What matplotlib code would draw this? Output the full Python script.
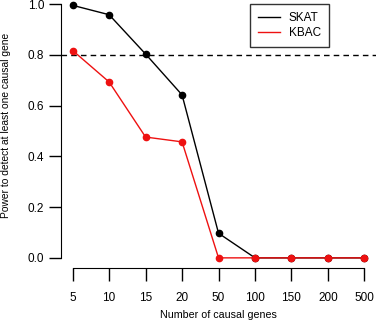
import matplotlib.pyplot as plt

plt.rcParams['font.family'] = ['Liberation Sans', 'DejaVu Sans']

genes = ['5', '10', '15', '20', '50', '100', '150', '200', '500']
skat = [0.995, 0.958, 0.803, 0.642, 0.097, 0.0, 0.0, 0.0, 0.0]
kbac = [0.817, 0.693, 0.476, 0.457, 0.0, 0.0, 0.0, 0.0, 0.0]

x = list(range(len(genes)))

fig = plt.figure(figsize=(3.76, 3.24), dpi=100)
ax = fig.add_axes([0.1622, 0.1728, 0.838, 0.846])

ax.axhline(0.8, color='black', lw=1, ls=(0, (4, 3)))
ax.plot(x, skat, color='black', lw=1, marker='o', ms=4.5, label='SKAT')
ax.plot(x, kbac, color='#ee1111', lw=1, marker='o', ms=4.5, label='KBAC')

ax.set_xlim(-0.32, 8.32)
ax.set_ylim(-0.04, 1.04)
ax.set_xticks(x)
ax.set_xticklabels(genes)
ax.set_yticks([0, 0.2, 0.4, 0.6, 0.8, 1.0])
ax.set_yticklabels(['0.0', '0.2', '0.4', '0.6', '0.8', '1.0'])

for s in ['top', 'right']:
    ax.spines[s].set_visible(False)
ax.spines['left'].set_bounds(0, 1)
ax.spines['bottom'].set_bounds(0, 8)
ax.tick_params(length=9, width=1, labelsize=8.5, pad=3)
ax.tick_params(axis='x', pad=8)

ax.set_xlabel('Number of causal genes', fontsize=7.7)
ax.set_ylabel('Power to detect at least one causal gene', fontsize=7.4)
ax.yaxis.set_label_coords(-0.16, 0.52)
ax.xaxis.set_label_coords(0.5, -0.155)

leg = ax.legend(loc='upper right', bbox_to_anchor=(329 / 376, 1 - 4 / 324),
                bbox_transform=fig.transFigure, borderaxespad=0, fontsize=8.5,
                frameon=True, fancybox=False, edgecolor='black',
                handlelength=1.86, handletextpad=0.75, borderpad=0.7,
                labelspacing=0.25)
leg.get_frame().set_linewidth(1)
for h in leg.legend_handles:
    h.set_marker('')

fig.savefig('out.png', dpi=100)
